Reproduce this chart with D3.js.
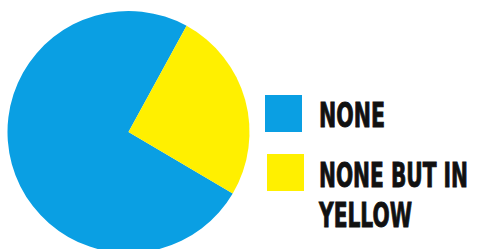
<!DOCTYPE html>
<html><head><meta charset="utf-8">
<script src="https://cdn.jsdelivr.net/npm/d3@7"></script>
<style>html,body{margin:0;padding:0;background:#fff;overflow:hidden}</style>
</head><body>
<svg id="c" width="477" height="249"></svg>
<script>
const categories = ["NONE", "NONE BUT IN YELLOW"];
const values = [74.5, 25.5];
const colors = ["#0a9fe3", "#fff000"];
const labelLines = [["NONE"], ["NONE BUT IN", "YELLOW"]];

const svg = d3.select("#c");
const cx = 128.5, cy = 132, r = 121;
const deg = Math.PI / 180;
const pie = d3.pie().sort(null).value(d => d).startAngle(120.5 * deg).endAngle(480.5 * deg);
const arc = d3.arc().innerRadius(0).outerRadius(r);
const color = d3.scaleOrdinal().domain(categories).range(colors);

svg.append("g").attr("transform", `translate(${cx},${cy})`)
  .selectAll("path").data(pie(values)).join("path")
  .attr("d", arc).attr("fill", (d, i) => color(categories[i]));

const legend = svg.append("g");
const sq = [{x: 265, y: 95}, {x: 267, y: 154}];
const lineY = [[126.5], [186.5, 226.5]];
const lineW = [[66], [149, 93]];
categories.forEach((c, i) => {
  legend.append("rect").attr("x", sq[i].x).attr("y", sq[i].y).attr("width", 37).attr("height", 37).attr("fill", color(c));
  labelLines[i].forEach((t, j) => {
    legend.append("text")
      .attr("transform", `translate(319,${lineY[i][j]}) scale(1,1.52)`)
      .attr("font-family", "'DejaVu Sans Condensed', 'DejaVu Sans', sans-serif")
      .attr("font-weight", "bold").attr("font-size", 22.5).attr("fill", "#111")
      .attr("stroke", "#111").attr("stroke-width", 0.6)
      .attr("textLength", lineW[i][j]).attr("lengthAdjust", "spacingAndGlyphs")
      .text(t);
  });
});
</script>
</body></html>
